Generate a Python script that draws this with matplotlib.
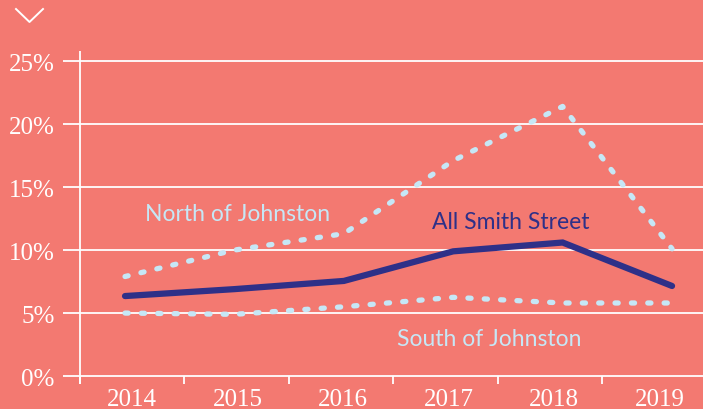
import matplotlib
matplotlib.use("Agg")
import matplotlib.pyplot as plt
from matplotlib.lines import Line2D

# values (percent)
years = [2014, 2015, 2016, 2017, 2018, 2019]
all_smith = [6.35, 6.9, 7.55, 9.9, 10.6, 7.15]
north = [7.9, 10.0, 11.3, 17.1, 21.4, 10.1]
south = [5.0, 4.9, 5.5, 6.25, 5.8, 5.8]
y_ticks = [0, 5, 10, 15, 20, 25]
y_labels = ["0%", "5%", "10%", "15%", "20%", "25%"]

bg = "#F37971"
navy = "#2E3088"
pale = "#C6E7F6"

fig = plt.figure(figsize=(7.03, 4.10), dpi=100, facecolor=bg)
ax = fig.add_axes([63 / 703, 25 / 410, 640 / 703, 333 / 410], facecolor=bg)

x0, x1 = 2013.433, 2019.283
ax.set_xlim(x0, x1)
ax.set_ylim(-0.63, 25.8)
for s in ax.spines.values():
    s.set_visible(False)

# grid + axis line
for v in y_ticks:
    ax.axhline(v, color="white", lw=1.3, zorder=1)
axis_x = 2013.589
step = 0.9543
ax.axvline(axis_x, color="white", lw=1.3, zorder=1)
bounds = [axis_x + k * step for k in range(6)]
ax.vlines(bounds, -0.63, 0, color="white", lw=1.3, zorder=1)
centers = [b + step / 2 + 0.01 * k for k, b in enumerate(bounds)]

ax.set_yticks(y_ticks, y_labels)
ax.set_xticks(centers, [str(y) for y in years])
ax.tick_params(length=0, colors="white")
ax.tick_params(axis="y", pad=6)
ax.tick_params(axis="x", pad=3)
for t in ax.get_yticklabels() + ax.get_xticklabels():
    t.set_fontfamily("Liberation Serif")
    t.set_fontsize(18)
    t.set_color("white")

dots = dict(color=pale, lw=3.8, linestyle=(0, (0.6, 2.5)),
            dash_capstyle="round", zorder=3)
ax.plot(years, north, **dots)
ax.plot(years, south, **dots)
ax.plot(years, all_smith, color=navy, lw=4.5, solid_capstyle="round",
        solid_joinstyle="miter", zorder=4)

lab = dict(family="Lato", fontsize=16.5, va="center", ha="left")
ax.text(2014.18, 12.94, "North of Johnston", color=pale, **lab)
ax.text(2016.81, 12.3, "All Smith Street", color=navy, **lab)
ax.text(2016.49, 3.0, "South of Johnston", color=pale, **lab)

# chevron at top-left
fig.add_artist(Line2D([16 / 703, 29.5 / 703, 43 / 703],
                      [1 - 10 / 410, 1 - 23 / 410, 1 - 10 / 410],
                      color="white", lw=1.4))

fig.savefig("out.png", dpi=100, facecolor=bg)
